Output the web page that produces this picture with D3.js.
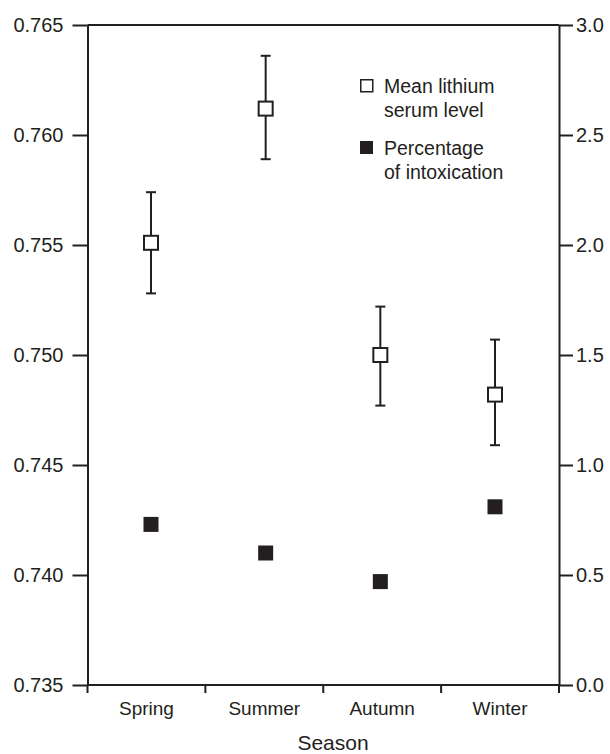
<!DOCTYPE html>
<html>
<head>
<meta charset="utf-8">
<script src="https://cdn.jsdelivr.net/npm/d3@7"></script>
<style>
  body { margin: 0; background: #fff; }
  svg text { font-family: "Liberation Sans", Arial, Helvetica, sans-serif; fill: #231f20; }
</style>
</head>
<body>
<svg width="610" height="754"></svg>
<script>
// Data.

var seasons = ['Spring', 'Summer', 'Autumn', 'Winter'];
var meanLevel = [0.7551, 0.7612, 0.7500, 0.7482];
var errLow = [0.7528, 0.7589, 0.7477, 0.7459];
var errHigh = [0.7574, 0.7636, 0.7522, 0.7507];
var intoxPct = [0.73, 0.60, 0.47, 0.81];
var leftTicks = [0.735, 0.740, 0.745, 0.750, 0.755, 0.760, 0.765];
var rightTicks = [0.0, 0.5, 1.0, 1.5, 2.0, 2.5, 3.0];

var ink = '#231f20';
var svg = d3.select('svg');
// note: 'top' is reserved on window, so use plot* names
var plotLeft = 87.5, plotRight = 559, plotTop = 25, plotBottom = 685;

// Scales.

var yL = d3.scaleLinear().domain([0.735, 0.765]).range([plotBottom, plotTop]);
var yR = d3.scaleLinear().domain([0, 3]).range([plotBottom, plotTop]);
var xBand = d3.scaleBand().domain(seasons).range([plotLeft, plotRight]);
var xPt = d3.scalePoint().domain(seasons).range([151, 495]);

var rows = seasons.map(function(s, i) {
  return {season: s, mean: meanLevel[i], lo: errLow[i], hi: errHigh[i], pct: intoxPct[i]};
});

// Axes.

var axL = svg.append('g')
  .attr('transform', 'translate(' + plotLeft + ',0)')
  .call(d3.axisLeft(yL).tickValues(leftTicks).tickFormat(d3.format('.3f'))
    .tickSize(15).tickSizeOuter(0).tickPadding(9));

var axR = svg.append('g')
  .attr('transform', 'translate(' + plotRight + ',0)')
  .call(d3.axisRight(yR).tickValues(rightTicks).tickFormat(d3.format('.1f'))
    .tickSize(14).tickSizeOuter(0).tickPadding(3));

[axL, axR].forEach(function(a) {
  a.selectAll('path.domain').attr('stroke', ink).attr('stroke-width', 2);
  a.selectAll('.tick line').attr('stroke', ink).attr('stroke-width', 2);
  a.selectAll('.tick text').style('font-size', '20px').attr('fill', ink);
});

// Top border.

svg.append('line')
  .attr('x1', plotLeft).attr('x2', plotRight)
  .attr('y1', plotTop).attr('y2', plotTop)
  .attr('stroke', ink).attr('stroke-width', 2);

// Bottom axis: ticks on band edges, labels in the middle.

var edges = seasons.map(function(s) { return xBand(s); }).concat([xBand.range()[1]]);

svg.append('line')
  .attr('x1', plotLeft).attr('x2', plotRight)
  .attr('y1', plotBottom).attr('y2', plotBottom)
  .attr('stroke', ink).attr('stroke-width', 2);

svg.append('g').selectAll('line')
  .data(edges)
  .enter().append('line')
  .attr('x1', function(d) { return d; })
  .attr('x2', function(d) { return d; })
  .attr('y1', plotBottom).attr('y2', plotBottom + 8)
  .attr('stroke', ink).attr('stroke-width', 2);

svg.append('g').selectAll('text')
  .data(seasons)
  .enter().append('text')
  .attr('x', function(d) { return xBand(d) + xBand.bandwidth() / 2; })
  .attr('y', 715)
  .attr('text-anchor', 'middle')
  .style('font-size', '19px')
  .text(function(d) { return d; });

svg.append('text')
  .attr('x', 333)
  .attr('y', 750)
  .attr('text-anchor', 'middle')
  .style('font-size', '21px')
  .text('Season');

// Error bars for the mean lithium level.

var bars = svg.append('g')
  .attr('stroke', ink).attr('stroke-width', 2);

bars.selectAll('line.stem')
  .data(rows)
  .enter().append('line')
  .attr('class', 'stem')
  .attr('x1', function(d) { return xPt(d.season); })
  .attr('x2', function(d) { return xPt(d.season); })
  .attr('y1', function(d) { return yL(d.lo); })
  .attr('y2', function(d) { return yL(d.hi); });

['lo', 'hi'].forEach(function(k) {
  bars.selectAll('line.cap-' + k)
    .data(rows)
    .enter().append('line')
    .attr('class', 'cap-' + k)
    .attr('x1', function(d) { return xPt(d.season) - 5; })
    .attr('x2', function(d) { return xPt(d.season) + 5; })
    .attr('y1', function(d) { return yL(d[k]); })
    .attr('y2', function(d) { return yL(d[k]); });
});

// Open squares: mean lithium level (left axis).

var openSize = 14;
svg.append('g').selectAll('rect')
  .data(rows)
  .enter().append('rect')
  .attr('x', function(d) { return xPt(d.season) - openSize / 2; })
  .attr('y', function(d) { return yL(d.mean) - openSize / 2; })
  .attr('width', openSize)
  .attr('height', openSize)
  .attr('fill', '#fff')
  .attr('stroke', ink)
  .attr('stroke-width', 2);

// Filled squares: percentage of intoxication (right axis).

var fillSize = 15;
svg.append('g').selectAll('rect')
  .data(rows)
  .enter().append('rect')
  .attr('x', function(d) { return xPt(d.season) - fillSize / 2; })
  .attr('y', function(d) { return yR(d.pct) - fillSize / 2; })
  .attr('width', fillSize)
  .attr('height', fillSize)
  .attr('fill', ink);

// Legend.

var legend = svg.append('g').attr('transform', 'translate(360,79)');

legend.append('rect')
  .attr('x', 0.75).attr('y', 0.75)
  .attr('width', 12).attr('height', 12)
  .attr('fill', '#fff').attr('stroke', ink).attr('stroke-width', 1.5);

legend.append('rect')
  .attr('x', 0).attr('y', 62)
  .attr('width', 13).attr('height', 13)
  .attr('fill', ink);

var legendLines = [['Mean lithium', 14], ['serum level', 38], ['Percentage', 76], ['of intoxication', 100]];
legend.selectAll('text')
  .data(legendLines)
  .enter().append('text')
  .attr('x', 24)
  .attr('y', function(d) { return d[1]; })
  .style('font-size', '19.5px')
  .text(function(d) { return d[0]; });
</script>
</body>
</html>
